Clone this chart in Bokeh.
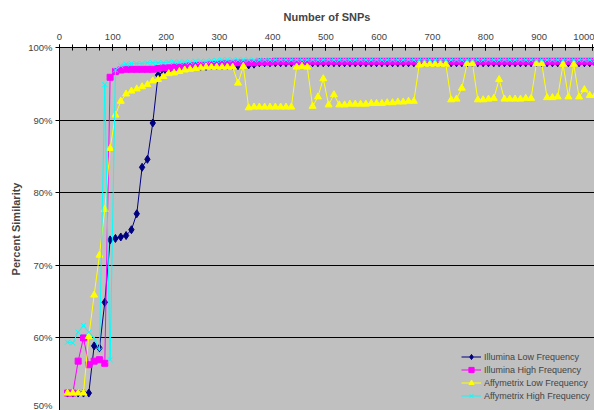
from bokeh.plotting import figure
from bokeh.models import Range1d, FixedTicker, PrintfTickFormatter
from bokeh.embed import file_html
from bokeh.resources import INLINE

# ---------------- data ----------------
snps = [15, 25, 35, 45, 55, 65, 75, 85, 95, 105,
        115, 125, 135, 145, 155, 165, 175, 185, 195, 205,
        215, 225, 235, 245, 255, 265, 275, 285, 295, 305,
        315, 325, 335, 345, 355, 365, 375, 385, 395, 405,
        415, 425, 435, 445, 455, 465, 475, 485, 495, 505,
        515, 525, 535, 545, 555, 565, 575, 585, 595, 605,
        615, 625, 635, 645, 655, 665, 675, 685, 695, 705,
        715, 725, 735, 745, 755, 765, 775, 785, 795, 805,
        815, 825, 835, 845, 855, 865, 875, 885, 895, 905,
        915, 925, 935, 945, 955, 965, 975, 985, 995, 1005]

illumina_low = [52.4, 52.4, 52.4, 52.4, 52.4, 58.9, 58.6, 64.9, 73.5, 73.7,
                73.9, 74.1, 74.9, 77.1, 83.5, 84.6, 89.6, 96.2, 96.7, 96.9,
                97.0, 97.1, 97.2, 97.3, 97.4, 97.4, 97.4, 97.5, 97.5, 97.5,
                97.5, 97.5, 97.5, 97.6, 97.6, 97.7, 97.9, 97.9, 97.9, 97.9,
                97.9, 97.9, 97.9, 97.9, 97.9, 97.9, 97.9, 97.9, 97.9, 97.9,
                97.9, 97.9, 97.9, 97.9, 97.9, 97.9, 97.9, 97.9, 97.9, 97.9,
                97.9, 97.9, 97.9, 97.9, 97.9, 97.9, 97.9, 97.9, 97.9, 97.9,
                97.9, 97.9, 97.9, 97.9, 97.9, 97.9, 97.9, 97.9, 97.9, 97.9,
                97.9, 97.9, 97.9, 97.9, 97.9, 97.9, 97.9, 97.9, 97.9, 97.9,
                97.9, 97.9, 97.9, 97.9, 97.9, 97.9, 97.9, 97.9, 97.9, 97.9]

illumina_high = [52.4, 52.4, 56.8, 60.0, 56.3, 56.8, 57.0, 56.5, 95.9, 96.7,
                 96.9, 97.0, 97.0, 97.0, 97.0, 97.0, 97.0, 97.1, 97.2, 97.2,
                 97.3, 97.3, 97.4, 97.5, 97.5, 97.6, 97.6, 97.7, 97.7, 97.8,
                 97.8, 97.8, 97.9, 97.9, 97.9, 97.9, 98.0, 98.0, 98.0, 98.1,
                 98.1, 98.1, 98.1, 98.1, 98.1, 98.1, 98.1, 98.1, 98.1, 98.1,
                 98.1, 98.1, 98.1, 98.1, 98.1, 98.1, 98.1, 98.1, 98.1, 98.1,
                 98.1, 98.1, 98.1, 98.1, 98.1, 98.1, 98.1, 98.1, 98.1, 98.1,
                 98.1, 98.1, 98.1, 98.1, 98.1, 98.1, 98.1, 98.1, 98.1, 98.1,
                 98.1, 98.1, 98.1, 98.1, 98.1, 98.1, 98.1, 98.1, 98.1, 98.1,
                 98.1, 98.1, 98.1, 98.1, 98.1, 98.1, 98.1, 98.1, 98.1, 98.1]

affy_low = [52.4, 52.4, 52.4, 52.4, 60.2, 65.9, 71.4, 77.7, 86.1, 90.7,
            92.6, 93.6, 94.0, 94.3, 94.6, 94.9, 95.4, 95.6, 96.0, 96.4,
            96.5, 96.7, 96.9, 97.0, 97.1, 97.2, 97.3, 97.3, 97.3, 97.3,
            97.3, 97.3, 95.1, 97.4, 91.7, 91.8, 91.8, 91.8, 91.8, 91.8,
            91.8, 91.8, 91.8, 97.3, 97.4, 97.3, 91.9, 93.2, 95.7, 92.1,
            93.5, 92.1, 92.1, 92.2, 92.2, 92.2, 92.2, 92.3, 92.3, 92.3,
            92.4, 92.4, 92.5, 92.5, 92.6, 92.6, 97.6, 97.7, 97.7, 97.7,
            97.7, 97.7, 92.8, 92.9, 94.4, 97.8, 97.8, 92.8, 92.8, 92.9,
            93.0, 95.6, 92.9, 92.9, 92.9, 92.9, 93.0, 93.0, 97.8, 97.8,
            93.1, 93.1, 93.2, 97.7, 93.2, 97.7, 93.2, 94.2, 93.4, 93.4]

affy_high = [59.4, 59.3, 60.8, 61.7, 60.8, 60.0, 58.3, 94.9, 57.0, 96.9,
             97.5, 97.7, 97.8, 97.8, 97.8, 97.9, 97.9, 97.9, 97.9, 98.0,
             98.0, 98.0, 98.0, 98.0, 98.1, 98.1, 98.1, 98.2, 98.2, 98.3,
             98.3, 98.3, 98.3, 98.3, 98.3, 98.3, 98.3, 98.3, 98.3, 98.3,
             98.3, 98.3, 98.3, 98.3, 98.3, 98.3, 98.3, 98.3, 98.3, 98.3,
             98.3, 98.3, 98.3, 98.3, 98.3, 98.3, 98.3, 98.3, 98.3, 98.3,
             98.3, 98.3, 98.3, 98.3, 98.3, 98.3, 98.3, 98.3, 98.3, 98.3,
             98.3, 98.3, 98.3, 98.3, 98.3, 98.3, 98.3, 98.3, 98.3, 98.3,
             98.3, 98.3, 98.3, 98.3, 98.3, 98.3, 98.3, 98.3, 98.3, 98.3,
             98.3, 98.3, 98.3, 98.3, 98.3, 98.3, 98.3, 98.3, 98.3, 98.3]

x_ticks = [0, 100, 200, 300, 400, 500, 600, 700, 800, 900, 1000]
y_ticks = [50, 60, 70, 80, 90, 100]

FONT = "Liberation Sans"

p = figure(width=594, height=410, output_backend="svg", toolbar_location=None,
           x_range=Range1d(0, 1004), y_range=Range1d(50, 100),
           x_axis_location="above",
           min_border_left=59, min_border_top=47, min_border_right=0, min_border_bottom=0)
p.background_fill_color = "#C0C0C0"
p.border_fill_color = "white"
p.outline_line_color = None

# x axis (top)
xa = p.xaxis[0]
xa.ticker = FixedTicker(ticks=x_ticks, minor_ticks=[v for v in range(0, 1001, 25)])
xa.axis_label = "Number of SNPs"
xa.axis_label_text_font = FONT
xa.axis_label_text_font_style = "bold"
xa.axis_label_text_font_size = "11px"
xa.axis_label_standoff = 8
xa.major_label_text_font = FONT
xa.major_label_text_font_size = "9.5px"
xa.major_label_standoff = 5
xa.major_tick_in = 3
xa.major_tick_out = 3
xa.minor_tick_in = 3
xa.minor_tick_out = 3
xa.axis_line_color = "black"
xa.major_tick_line_color = "black"
xa.minor_tick_line_color = "black"

# y axis (left)
ya = p.yaxis[0]
ya.ticker = FixedTicker(ticks=y_ticks)
ya.formatter = PrintfTickFormatter(format="%d%%")
ya.axis_label = "Percent Similarity"
ya.axis_label_text_font = FONT
ya.axis_label_text_font_style = "bold"
ya.axis_label_text_font_size = "11px"
ya.axis_label_standoff = 3
ya.major_label_text_font = FONT
ya.major_label_text_font_size = "9.5px"
ya.major_label_standoff = 3
ya.major_tick_in = 0
ya.major_tick_out = 4
ya.minor_tick_line_color = None
ya.axis_line_color = "black"

p.xgrid.grid_line_color = None
p.ygrid.ticker = FixedTicker(ticks=y_ticks)
p.ygrid.grid_line_color = "black"
p.ygrid.grid_line_width = 1

series = [
    ("Illumina Low Frequency", illumina_low, "#000080", "diamond", 8),
    ("Illumina High Frequency", illumina_high, "#FF00FF", "square", 6),
    ("Affymetrix Low Frequency", affy_low, "#FFFF00", "triangle", 7),
    ("Affymetrix High Frequency", affy_high, "#00FFFF", "x", 7),
]
for label, vals, color, marker, size in series:
    p.line(snps, vals, line_color=color, line_width=1, legend_label=label)
    p.scatter(snps, vals, marker=marker, size=size, fill_color=color,
              line_color=color, line_width=1, legend_label=label)

lg = p.legend[0]
lg.location = (402, 8)
lg.background_fill_alpha = 0
lg.border_line_color = None
lg.padding = 0
lg.margin = 0
lg.spacing = 0
lg.glyph_width = 20
lg.glyph_height = 13
lg.label_height = 13
lg.label_standoff = 3
lg.label_text_font = FONT
lg.label_text_font_size = "9px"

open("out.html", "w").write(file_html(p, INLINE))
